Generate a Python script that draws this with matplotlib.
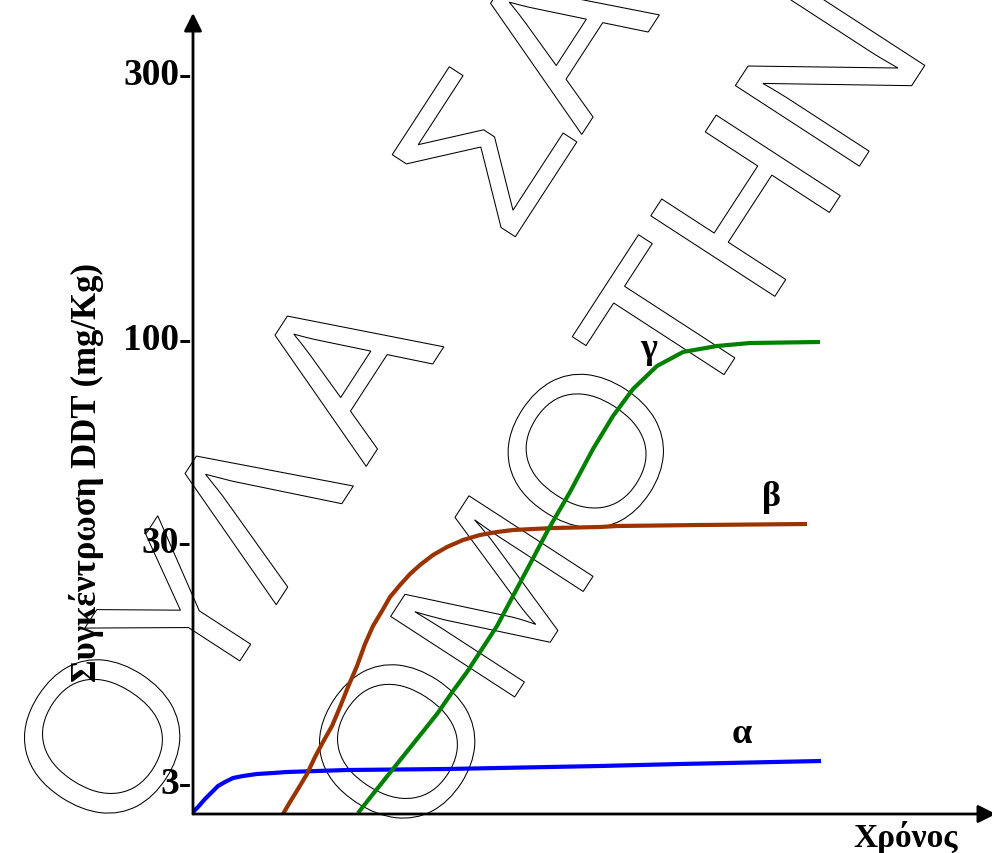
import numpy as np
import matplotlib
matplotlib.use("Agg")
import matplotlib.pyplot as plt
from matplotlib.textpath import TextPath, text_to_path
from matplotlib.patches import PathPatch
from matplotlib.font_manager import FontProperties
from matplotlib.transforms import Affine2D, IdentityTransform

# time axis (arbitrary units) and concentration axis (chart units, not linear in mg/Kg)
alpha_t = [0.0, 0.5, 1.2, 1.9, 2.5, 3.2, 4.0, 5.0, 6.4, 8.0, 9.4, 15.4, 25.4, 40.7, 48.7, 62.8]
alpha_c = [0.2, 0.7, 1.5, 2.2, 2.8, 3.2, 3.6, 3.8, 4.0, 4.1, 4.2, 4.4, 4.5, 4.8, 5.0, 5.3]

beta_t = [9.0, 9.7, 10.5, 11.4, 12.2, 13.0, 13.9, 14.7, 15.5, 16.4, 17.2, 18.0, 18.9, 19.7,
          20.7, 21.7, 22.7, 24.0, 25.4, 27.0, 28.7, 30.4, 32.0, 34.0, 36.0, 40.7, 42.4, 50.7, 61.4]
beta_c = [0.0, 1.2, 2.5, 4.0, 5.7, 7.2, 8.8, 10.7, 12.7, 14.8, 17.0, 18.8, 20.3, 21.7,
          22.9, 24.0, 24.9, 25.9, 26.7, 27.4, 27.9, 28.2, 28.4, 28.5, 28.6, 28.7, 28.8, 28.9, 29.0]

gamma_t = [16.5, 18.0, 20.0, 22.0, 24.4, 26.0, 27.4, 28.9, 30.4, 32.0, 33.7, 35.5, 37.7, 40.0,
           42.0, 44.0, 46.4, 49.0, 52.4, 55.7, 62.7]
gamma_c = [0.1, 2.0, 4.5, 7.0, 10.0, 12.3, 14.2, 16.5, 18.8, 21.8, 25.0, 28.4, 32.2, 36.5,
           39.8, 42.5, 44.8, 46.2, 46.8, 47.1, 47.2]

tick_pos = [3.4, 27.5, 47.8, 74.3]
tick_labels = ["3-", "30-", "100-", "300-"]

curve_names = ["α", "β", "γ"]
name_pos = [(54.9, 8.0), (57.8, 31.7), (45.6, 46.5)]

# watermark: each line is a list of (text chunk, extra gap before it)
wm_lines = [[("ΟΥΛ", 0), ("Α", 22), ("  ΣΑ", 0)], [("ΟΜΟΤΗΝ", 0)]]
wm_start = [(119, 6), (414, 1)]
wm_size = 215
wm_angle = 57

W, H = 992, 854
fig = plt.figure(figsize=(W / 100, H / 100), dpi=100)
ax = fig.add_axes([193 / W, 39 / H, 799 / W, 800 / H])
ax.patch.set_visible(False)
ax.set_xlim(0, 79.9)
ax.set_ylim(0, 80)
for s in ax.spines.values():
    s.set_visible(False)

serif = "Liberation Serif"

# watermark, outline letters only
fp = FontProperties(family="Liberation Sans", size=wm_size)
ux, uy = np.cos(np.radians(wm_angle)), np.sin(np.radians(wm_angle))
for chunks, (x0, y0) in zip(wm_lines, wm_start):
    pos = 0.0
    for txt, gap in chunks:
        pos += gap
        tp = TextPath((0, 0), txt, size=wm_size, prop=fp)
        tr = (Affine2D().rotate_deg(wm_angle)
              .translate(x0 + pos * ux, y0 + pos * uy) + IdentityTransform())
        fig.add_artist(PathPatch(tp, facecolor="none", edgecolor="black",
                                 lw=0.75, transform=tr, zorder=-5))
        w, _, _ = text_to_path.get_text_width_height_descent(txt, fp, ismath=False)
        pos += w

# axes with arrows
arrow = dict(arrowstyle="-|>", color="black", lw=2, mutation_scale=27,
             shrinkA=0, shrinkB=0)
ax.annotate("", xy=(0, 80.1), xytext=(0, 0), arrowprops=arrow,
            annotation_clip=False)
ax.annotate("", xy=(80.3, 0), xytext=(0, 0), arrowprops=arrow,
            annotation_clip=False)

style = dict(lw=3, solid_capstyle="butt", solid_joinstyle="round")
ax.plot(alpha_t, alpha_c, color="#0000ff", **style)
ax.plot(beta_t, beta_c, color="#993300", **style)
ax.plot(gamma_t, gamma_c, color="#008000", **style)

for name, (x, y) in zip(curve_names, name_pos):
    ax.text(x, y, name, fontsize=26, fontweight="bold", family=serif,
            ha="center", va="center")

ax.set_xticks([])
ax.set_yticks(tick_pos, tick_labels)
ax.tick_params(axis="y", length=0, pad=1)
for lb in ax.get_yticklabels():
    lb.set_fontsize(27)
    lb.set_fontweight("bold")
    lb.set_family(serif)

ax.text(71.3, -3.2, "Χρόνος", fontsize=24, fontweight="bold", family=serif,
        ha="center", va="baseline", clip_on=False)

fig.text(87 / W, (H - 473) / H, "Συγκέντρωση DDT (mg/Kg)", rotation=90,
         fontsize=25, fontweight="bold", family=serif, ha="center", va="center")

fig.savefig("out.png", dpi=100)
